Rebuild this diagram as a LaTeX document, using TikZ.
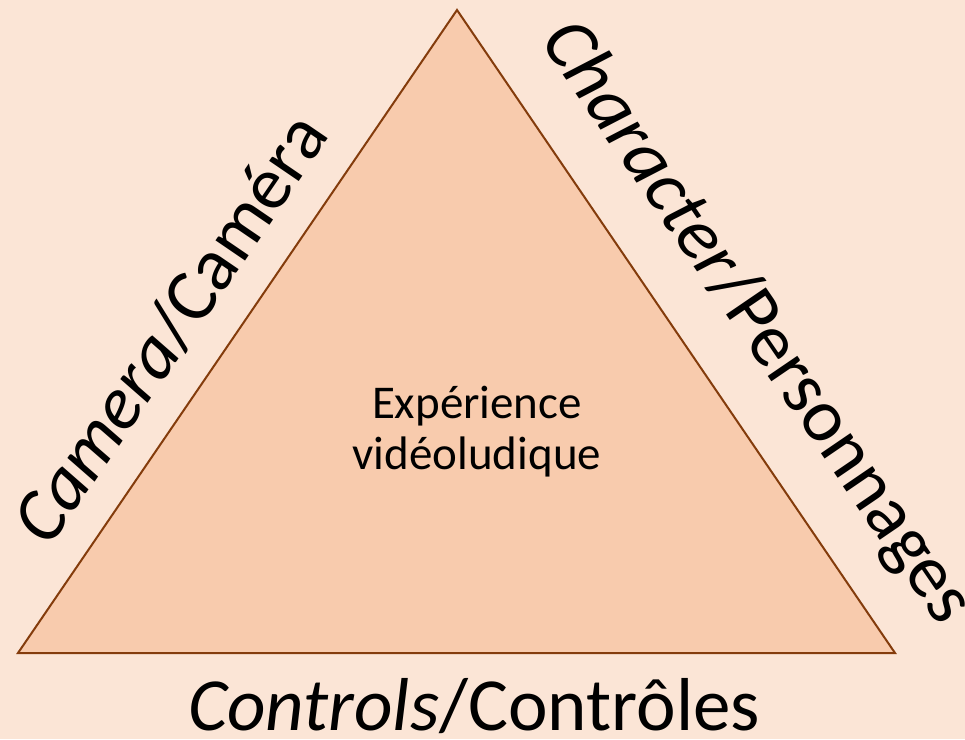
\documentclass[tikz,border=0pt]{standalone}
\usepackage{fontspec}
\setmainfont{Carlito}
\definecolor{bgpeach}{HTML}{FBE5D6}
\definecolor{trifill}{HTML}{F8CBAD}
\definecolor{triedge}{HTML}{843C0C}
\begin{document}
\begin{tikzpicture}[x=1pt,y=1pt,
  sidelabel/.style={font=\fontsize{75}{86}\selectfont, inner sep=0pt, anchor=center},
  centerlabel/.style={font=\fontsize{47}{51}\selectfont, align=center, inner sep=0pt}]
\fill[bgpeach] (0,0) rectangle (965,739);
\useasboundingbox (0,0) rectangle (965,739);
\coordinate (apex) at (457,729);
\coordinate (bl) at (18,86);
\coordinate (br) at (895,86);
\draw[triedge, fill=trifill, line width=2pt, line join=miter] (apex) -- (br) -- (bl) -- cycle;
\node[centerlabel] (center) at (477,307) {Expérience\\vidéoludique};
\node[sidelabel, rotate=55.7] (camera) at (170,411) {\textit{Camera}/Caméra};
\node[sidelabel, rotate=-55.7] (character) at (756,416) {\textit{Character}/Personnages};
\node[sidelabel] (controls) at (474,33) {\textit{Controls}/Contrôles};
\end{tikzpicture}
\end{document}
